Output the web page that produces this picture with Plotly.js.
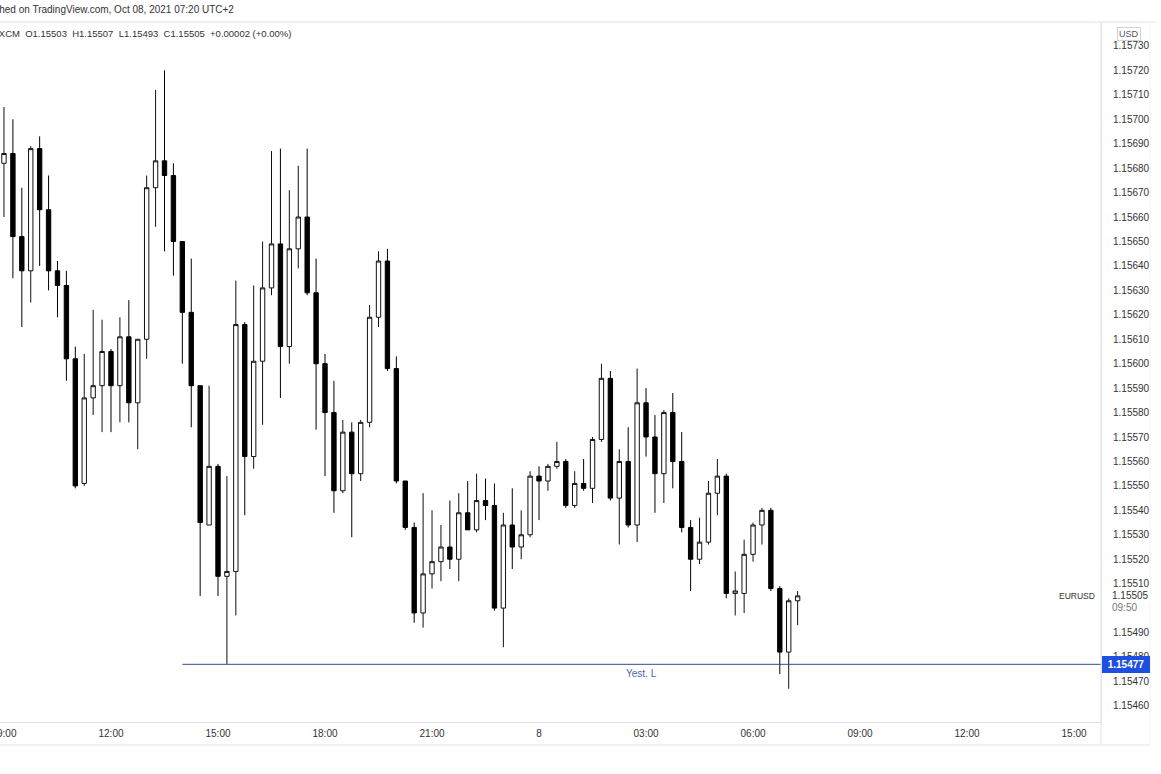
<!DOCTYPE html>
<html>
<head>
<meta charset="utf-8">
<script src="https://cdn.plot.ly/plotly-3.0.1.min.js"></script>
<style>html,body{margin:0;padding:0;background:#fff;}#chart{width:1161px;height:774px;}</style>
</head>
<body>
<div id="chart"></div>
<script>
// 15-minute EURUSD candles (FXCM), Oct 7-8 2021
const times = [
"2021-10-07 09:00","2021-10-07 09:15","2021-10-07 09:30","2021-10-07 09:45",
"2021-10-07 10:00","2021-10-07 10:15","2021-10-07 10:30","2021-10-07 10:45",
"2021-10-07 11:00","2021-10-07 11:15","2021-10-07 11:30","2021-10-07 11:45",
"2021-10-07 12:00","2021-10-07 12:15","2021-10-07 12:30","2021-10-07 12:45",
"2021-10-07 13:00","2021-10-07 13:15","2021-10-07 13:30","2021-10-07 13:45",
"2021-10-07 14:00","2021-10-07 14:15","2021-10-07 14:30","2021-10-07 14:45",
"2021-10-07 15:00","2021-10-07 15:15","2021-10-07 15:30","2021-10-07 15:45",
"2021-10-07 16:00","2021-10-07 16:15","2021-10-07 16:30","2021-10-07 16:45",
"2021-10-07 17:00","2021-10-07 17:15","2021-10-07 17:30","2021-10-07 17:45",
"2021-10-07 18:00","2021-10-07 18:15","2021-10-07 18:30","2021-10-07 18:45",
"2021-10-07 19:00","2021-10-07 19:15","2021-10-07 19:30","2021-10-07 19:45",
"2021-10-07 20:00","2021-10-07 20:15","2021-10-07 20:30","2021-10-07 20:45",
"2021-10-07 21:00","2021-10-07 21:15","2021-10-07 21:30","2021-10-07 21:45",
"2021-10-07 22:00","2021-10-07 22:15","2021-10-07 22:30","2021-10-07 22:45",
"2021-10-07 23:00","2021-10-07 23:15","2021-10-07 23:30","2021-10-07 23:45",
"2021-10-08 00:00","2021-10-08 00:15","2021-10-08 00:30","2021-10-08 00:45",
"2021-10-08 01:00","2021-10-08 01:15","2021-10-08 01:30","2021-10-08 01:45",
"2021-10-08 02:00","2021-10-08 02:15","2021-10-08 02:30","2021-10-08 02:45",
"2021-10-08 03:00","2021-10-08 03:15","2021-10-08 03:30","2021-10-08 03:45",
"2021-10-08 04:00","2021-10-08 04:15","2021-10-08 04:30","2021-10-08 04:45",
"2021-10-08 05:00","2021-10-08 05:15","2021-10-08 05:30","2021-10-08 05:45",
"2021-10-08 06:00","2021-10-08 06:15","2021-10-08 06:30","2021-10-08 06:45",
"2021-10-08 07:00","2021-10-08 07:15"
];
const openP = [
1.15682,1.15686,1.15652,1.15638,1.15688,1.15663,1.15638,1.15632,1.15602,1.15551,
1.15586,1.15591,1.15605,1.15591,1.15611,1.15584,1.15610,1.15672,1.15683,1.15677,
1.15650,1.15621,1.15591,1.15534,1.15558,1.15513,1.15515,1.15616,1.15562,1.15601,
1.15631,1.15649,1.15607,1.15647,1.15660,1.15629,1.15600,1.15580,1.15548,1.15572,
1.15555,1.15576,1.15619,1.15642,1.15598,1.15552,1.15533,1.15498,1.15514,1.15519,
1.15525,1.15520,1.15539,1.15532,1.15544,1.15542,1.15500,1.15534,1.15525,1.15530,
1.15554,1.15552,1.15558,1.15560,1.15542,1.15551,1.15549,1.15569,1.15594,1.15545,
1.15560,1.15534,1.15584,1.15570,1.15555,1.15580,1.15560,1.15533,1.15520,1.15527,
1.15547,1.15554,1.15506,1.15506,1.15522,1.15534,1.15540,1.15508,1.15482,1.15503
];
const highP = [
1.15705,1.15700,1.15672,1.15689,1.15693,1.15677,1.15642,1.15638,1.15607,1.15604,
1.15622,1.15618,1.15606,1.15619,1.15626,1.15610,1.15677,1.15712,1.15720,1.15682,
1.15650,1.15643,1.15591,1.15591,1.15559,1.15554,1.15634,1.15617,1.15632,1.15650,
1.15687,1.15688,1.15671,1.15681,1.15688,1.15643,1.15604,1.15593,1.15577,1.15576,
1.15577,1.15624,1.15646,1.15647,1.15603,1.15552,1.15535,1.15547,1.15540,1.15534,
1.15544,1.15547,1.15552,1.15555,1.15553,1.15551,1.15539,1.15549,1.15540,1.15556,
1.15558,1.15559,1.15568,1.15561,1.15556,1.15561,1.15570,1.15600,1.15597,1.15565,
1.15574,1.15598,1.15590,1.15579,1.15581,1.15588,1.15572,1.15536,1.15537,1.15552,
1.15561,1.15555,1.15515,1.15528,1.15535,1.15541,1.15541,1.15509,1.15504,1.15507
];
const lowP = [
1.15660,1.15635,1.15615,1.15625,1.15640,1.15630,1.15619,1.15593,1.15549,1.15550,
1.15579,1.15572,1.15572,1.15576,1.15576,1.15565,1.15602,1.15656,1.15646,1.15636,
1.15600,1.15574,1.15505,1.15534,1.15505,1.15477,1.15497,1.15538,1.15557,1.15575,
1.15628,1.15586,1.15600,1.15639,1.15628,1.15573,1.15554,1.15539,1.15547,1.15529,
1.15552,1.15574,1.15615,1.15597,1.15551,1.15532,1.15494,1.15492,1.15508,1.15511,
1.15516,1.15511,1.15532,1.15531,1.15536,1.15499,1.15484,1.15516,1.15520,1.15529,
1.15536,1.15548,1.15557,1.15541,1.15541,1.15548,1.15543,1.15568,1.15544,1.15526,
1.15533,1.15527,1.15562,1.15539,1.15543,1.15549,1.15531,1.15507,1.15518,1.15526,
1.15538,1.15504,1.15497,1.15498,1.15519,1.15526,1.15507,1.15473,1.15467,1.15493
];
const closeP = [
1.15686,1.15652,1.15638,1.15688,1.15663,1.15638,1.15632,1.15602,1.15550,1.15586,
1.15591,1.15605,1.15591,1.15611,1.15584,1.15610,1.15672,1.15683,1.15677,1.15650,
1.15621,1.15591,1.15535,1.15558,1.15513,1.15515,1.15616,1.15562,1.15601,1.15631,
1.15649,1.15607,1.15647,1.15660,1.15629,1.15600,1.15580,1.15548,1.15572,1.15555,
1.15576,1.15619,1.15642,1.15598,1.15552,1.15533,1.15498,1.15514,1.15519,1.15525,
1.15520,1.15539,1.15532,1.15544,1.15542,1.15500,1.15534,1.15525,1.15530,1.15554,
1.15552,1.15558,1.15560,1.15542,1.15551,1.15549,1.15569,1.15594,1.15545,1.15560,
1.15534,1.15584,1.15570,1.15555,1.15580,1.15560,1.15533,1.15520,1.15527,1.15547,
1.15554,1.15506,1.15507,1.15522,1.15534,1.15540,1.15508,1.15482,1.15503,1.15505
];

// axis ticks
const xTickVals = ["2021-10-07 09:00","2021-10-07 12:00","2021-10-07 15:00","2021-10-07 18:00",
  "2021-10-07 21:00","2021-10-08 00:00","2021-10-08 03:00","2021-10-08 06:00",
  "2021-10-08 09:00","2021-10-08 12:00","2021-10-08 15:00"];
const xTickText = ["09:00","12:00","15:00","18:00","21:00","8","03:00","06:00","09:00","12:00","15:00"];
const yTickVals = [1.15730,1.15720,1.15710,1.15700,1.15690,1.15680,1.15670,1.15660,1.15650,1.15640,
  1.15630,1.15620,1.15610,1.15600,1.15590,1.15580,1.15570,1.15560,1.15550,1.15540,1.15530,
  1.15520,1.15510,1.15490,1.15480,1.15470,1.15460];
const yTickText = yTickVals.map(v => v.toFixed(5));

// levels / labels
const yestLow = 1.15477;
const yestLowStart = "2021-10-07 14:00";
const yestLabelTime = "2021-10-08 02:52";
const lastPrice = 1.15505;
const countdown = "09:50";
const symbol = "EURUSD";
const headerTop = "Published on TradingView.com, Oct 08, 2021 07:20 UTC+2";
const headerInfo = "FXCM\u00a0\u00a0O1.15503\u00a0\u00a0H1.15507\u00a0\u00a0L1.15493\u00a0\u00a0C1.15505\u00a0\u00a0+0.00002\u00a0(+0.00%)";

const FONT = "Liberation Sans, Arial, sans-serif";
const AX = "#e0e3eb";

const trace = {
  type: "candlestick",
  x: times, open: openP, high: highP, low: lowP, close: closeP,
  increasing: {line: {color: "#111111", width: 1}, fillcolor: "#ffffff"},
  decreasing: {line: {color: "#000000", width: 1}, fillcolor: "#000000"},
  whiskerwidth: 0,
  hoverinfo: "none",
  showlegend: false
};

const pad = (745 - 722) / 700;

const layout = {
  width: 1161, height: 774,
  margin: {l: 0, r: 60, t: 22, b: 52, pad: 0},
  paper_bgcolor: "#ffffff", plot_bgcolor: "#ffffff",
  font: {family: FONT, size: 10, color: "#333333"},
  boxgap: 0.3,
  xaxis: {
    type: "date",
    range: ["2021-10-07 08:53:18", "2021-10-08 15:45:18"],
    rangeslider: {visible: false},
    showgrid: false, zeroline: false,
    showline: true, linecolor: AX, linewidth: 1,
    tickmode: "array", tickvals: xTickVals, ticktext: xTickText,
    ticks: "", tickfont: {family: FONT, size: 10, color: "#333333"},
    ticklabelstandoff: 2,
    ticklabeloverflow: "allow"
  },
  yaxis: {
    side: "right",
    range: [1.154534, 1.157398],
    showgrid: false, zeroline: false,
    showline: true, linecolor: AX, linewidth: 1,
    tickmode: "array", tickvals: yTickVals, ticktext: yTickText,
    ticks: "", tickfont: {family: FONT, size: 10, color: "#333333"},
    ticklabelstandoff: 9
  },
  shapes: [
    {type: "line", xref: "x", yref: "y", x0: yestLowStart, x1: "2021-10-08 15:45:18", y0: yestLow, y1: yestLow,
     line: {color: "#2f4f8f", width: 1}},
    {type: "line", xref: "paper", yref: "paper", x0: -0.01, x1: 1.05, y0: 1, y1: 1, line: {color: AX, width: 1}},
    {type: "line", xref: "paper", yref: "paper", x0: 1, x1: 1, y0: -pad, y1: 1, line: {color: AX, width: 1}},
    {type: "line", xref: "paper", yref: "paper", x0: -0.01, x1: 1.0445, y0: -pad, y1: -pad, line: {color: AX, width: 1}},
    {type: "line", xref: "paper", yref: "paper", x0: 1.0445, x1: 1.0445, y0: -pad, y1: 1, line: {color: "#f0f3fa", width: 1}}
  ],
  annotations: [
    {xref: "paper", yref: "paper", x: 0, y: 1, xanchor: "left", yanchor: "bottom", xshift: -30, yshift: 5,
     text: headerTop, showarrow: false, font: {family: FONT, size: 10, color: "#333333"}},
    {xref: "paper", yref: "paper", x: 0, y: 1, xanchor: "left", yanchor: "top", xshift: -9, yshift: -4,
     text: headerInfo, showarrow: false, font: {family: FONT, size: 9.5, color: "#333333"}},
    {xref: "paper", yref: "paper", x: 1, y: 1, xanchor: "left", yanchor: "top", xshift: 16, yshift: -5,
     text: "USD", showarrow: false, font: {family: FONT, size: 9, color: "#555555"},
     bordercolor: "#d1d4dc", borderwidth: 1, borderpad: 1, bgcolor: "#ffffff"},
    {xref: "paper", yref: "y", x: 1, y: yestLow, xanchor: "left", yanchor: "middle", xshift: 1,
     text: "<b>" + yestLow.toFixed(5) + "</b>", showarrow: false, font: {family: FONT, size: 10, color: "#ffffff"},
     bgcolor: "#1f4fe0", bordercolor: "#1f4fe0", borderwidth: 1, borderpad: 2, width: 42, align: "center"},
    {xref: "x", yref: "y", x: yestLabelTime, y: yestLow, xanchor: "center", yanchor: "top", yshift: -2,
     text: "Yest. L", showarrow: false, font: {family: FONT, size: 10, color: "#4a66b0"}},
    {xref: "paper", yref: "y", x: 1, y: lastPrice, xanchor: "left", yanchor: "middle", xshift: 9,
     text: lastPrice.toFixed(5), showarrow: false, font: {family: FONT, size: 10, color: "#333333"}, bgcolor: "#ffffff"},
    {xref: "paper", yref: "y", x: 1, y: lastPrice, xanchor: "left", yanchor: "middle", xshift: 9, yshift: -12,
     text: countdown, showarrow: false, font: {family: FONT, size: 10, color: "#777777"}},
    {xref: "paper", yref: "y", x: 1, y: lastPrice, xanchor: "right", yanchor: "middle", xshift: -4,
     text: symbol, showarrow: false, font: {family: FONT, size: 8.5, color: "#333333"}}
  ]
};

Plotly.newPlot("chart", [trace], layout, {staticPlot: true, displayModeBar: false});
</script>
</body>
</html>
